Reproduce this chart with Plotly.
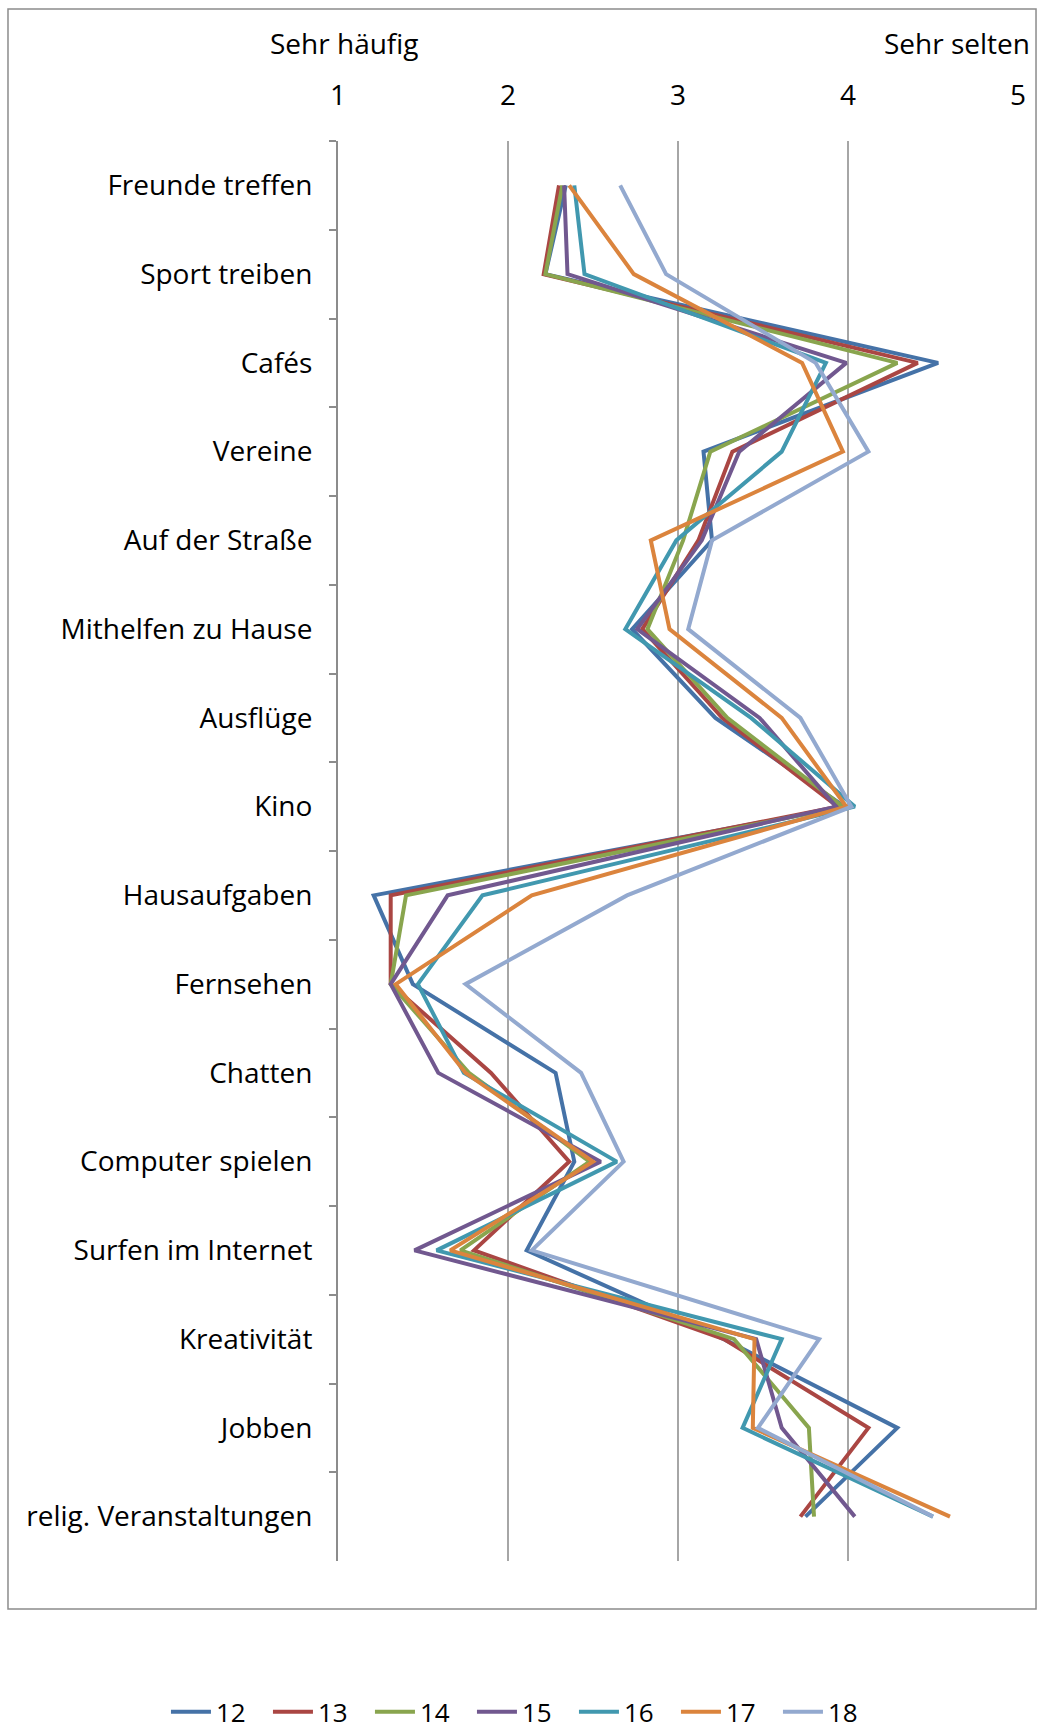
import plotly.graph_objects as go

categories = ["Freunde treffen", "Sport treiben", "Cafés", "Vereine", "Auf der Straße",
              "Mithelfen zu Hause", "Ausflüge", "Kino", "Hausaufgaben", "Fernsehen",
              "Chatten", "Computer spielen", "Surfen im Internet", "Kreativität",
              "Jobben", "relig. Veranstaltungen"]

age_12 = [2.34, 2.22, 4.53, 3.15, 3.20, 2.73, 3.22, 3.98, 1.21, 1.44, 2.28, 2.39, 2.11, 3.27, 4.29, 3.75]
age_13 = [2.30, 2.21, 4.41, 3.32, 3.12, 2.79, 3.26, 3.94, 1.31, 1.31, 1.90, 2.36, 1.80, 3.27, 4.12, 3.72]
age_14 = [2.32, 2.22, 4.29, 3.19, 3.03, 2.82, 3.29, 3.97, 1.40, 1.31, 1.77, 2.48, 1.72, 3.33, 3.77, 3.80]
age_15 = [2.33, 2.35, 3.99, 3.36, 3.14, 2.76, 3.48, 3.93, 1.645, 1.31, 1.59, 2.545, 1.45, 3.46, 3.61, 4.04]
age_16 = [2.39, 2.45, 3.87, 3.61, 2.99, 2.69, 3.43, 4.04, 1.85, 1.47, 1.74, 2.64, 1.58, 3.61, 3.38, 4.50]
age_17 = [2.36, 2.74, 3.73, 3.97, 2.84, 2.95, 3.61, 3.99, 2.14, 1.34, 1.75, 2.50, 1.66, 3.45, 3.44, 4.60]
age_18 = [2.66, 2.93, 3.81, 4.12, 3.20, 3.06, 3.72, 4.02, 2.70, 1.75, 2.43, 2.68, 2.14, 3.83, 3.47, 4.50]

series_names = ["12", "13", "14", "15", "16", "17", "18"]
series_values = [age_12, age_13, age_14, age_15, age_16, age_17, age_18]
colors = ["#4572A7", "#AA4643", "#89A54E", "#71588F", "#4198AF", "#DB843D", "#93A9CF"]

x_ticks = [1, 2, 3, 4, 5]

FONT = "Open Sans"

fig = go.Figure()
for name, vals, col in zip(series_names, series_values, colors):
    fig.add_trace(go.Scatter(
        x=vals, y=categories, mode="lines", name=name,
        line=dict(color=col, width=4),
    ))

fig.update_layout(
    width=1037, height=1733,
    margin=dict(l=338, r=19, t=141, b=172, autoexpand=False),
    paper_bgcolor="white", plot_bgcolor="white",
    font=dict(family=FONT, size=28, color="#000000"),
    showlegend=True,
    legend=dict(orientation="h", xref="paper", yref="paper",
                x=-0.253, xanchor="left", y=-0.1063, yanchor="middle",
                font=dict(family=FONT, size=26), itemwidth=40,
                entrywidth=47, entrywidthmode="pixels"),
    xaxis=dict(side="top", range=[1, 5], tickvals=x_ticks, ticktext=[str(v) for v in x_ticks],
               showgrid=True, gridcolor="#a6a6a6", gridwidth=1.5, zeroline=False,
               showline=False, ticks="", ticklabelstandoff=29,
               tickfont=dict(family=FONT, size=28)),
    yaxis=dict(type="category", categoryorder="array", categoryarray=categories,
               range=[len(categories) - 0.5, -0.5], autorange=False,
               showgrid=False, zeroline=False,
               showline=True, linecolor="#8c8c8c", linewidth=2,
               ticks="outside", tickson="boundaries", ticklen=7, tickcolor="#8c8c8c",
               tickwidth=2, ticklabelstandoff=18,
               tickfont=dict(family=FONT, size=28)),
    shapes=[dict(type="rect", xref="paper", yref="paper",
                 x0=-0.4853, x1=1.0265, y0=-0.0338, y1=1.0930,
                 line=dict(color="#8c8c8c", width=1.5), fillcolor="rgba(0,0,0,0)",
                 layer="below")],
    annotations=[
        dict(text="Sehr häufig", xref="paper", yref="paper", x=0.0096, y=1.069,
             xanchor="center", yanchor="middle", showarrow=False,
             font=dict(family=FONT, size=28)),
        dict(text="Sehr selten", xref="paper", yref="paper", x=1.0206, y=1.069,
             xanchor="right", yanchor="middle", showarrow=False,
             font=dict(family=FONT, size=28)),
    ],
)

fig.write_html("out.html", config={"displayModeBar": False},
               post_script="document.body.style.margin='0';document.body.style.overflow='hidden';")
